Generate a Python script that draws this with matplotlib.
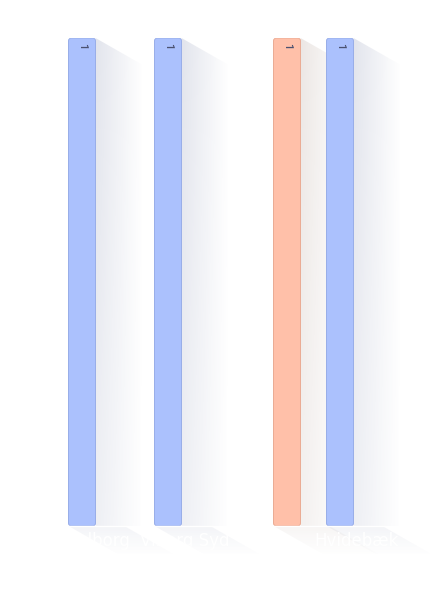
import numpy as np
import matplotlib
matplotlib.use("Agg")
import matplotlib.pyplot as plt
from matplotlib.patches import FancyBboxPatch, Polygon

# ---- data ----
categories = ["Aalborg", "Viborg Syd", "Ringe", "Hvidebæk"]
series_a = [1, 1, None, 1]      # blue series
series_b = [None, None, 1, None]  # orange series
value_labels = ["1", "1", "1", "1"]

color_a = "#abc1fd"
edge_a = "#98ade8"
color_b = "#ffc0a9"
edge_b = "#eaab94"
shadow_a = (0.42, 0.47, 0.63)
shadow_b = (0.62, 0.52, 0.47)

W_PX, H_PX = 431, 601
fig = plt.figure(figsize=(W_PX / 100, H_PX / 100), dpi=100)
ax_left, ax_right, ax_top, ax_bot = 55.5, 399.5, 38.0, 526.0
ax = fig.add_axes([ax_left / W_PX, (H_PX - ax_bot) / H_PX,
                   (ax_right - ax_left) / W_PX, (ax_bot - ax_top) / H_PX])
ax.set_xlim(-0.5, len(categories) - 0.5)
ax.set_ylim(0, 1)

px_x = (ax_right - ax_left) / len(categories)   # px per x unit
px_y = (ax_bot - ax_top) / 1.0                  # px per y unit
bar_w = 27 / px_x
offsets = [-16.5 / px_x, 16.5 / px_x]
rad = 3 / px_x
aspect = (1 / px_y) / (1 / px_x)


def gradient_poly(verts, rgb, direction, a0, a1, z):
    poly = Polygon(verts, closed=True, facecolor="none", edgecolor="none",
                   transform=ax.transData)
    xs = [v[0] for v in verts]
    ys = [v[1] for v in verts]
    n = 128
    g = np.linspace(a0, a1, n)
    img = np.zeros((n, n, 4))
    img[..., 0], img[..., 1], img[..., 2] = rgb
    if direction == "x":
        img[..., 3] = g[None, :]
        img[..., 3] *= np.linspace(0.6, 1.0, n)[:, None]
    else:
        img[..., 3] = g[::-1][:, None]
    im = ax.imshow(img, extent=(min(xs), max(xs), min(ys), max(ys)),
                   origin="lower", aspect="auto", zorder=z,
                   interpolation="bilinear")
    im.set_clip_box(fig.bbox)
    im.set_clip_path(poly)


shadow_len = 48 / px_x
slope = 0.57 * (px_x / px_y)   # data-y per data-x
below_len = 30 / px_y

for s, (vals, fc, ec, sh) in enumerate([(series_a, color_a, edge_a, shadow_a),
                                        (series_b, color_b, edge_b, shadow_b)]):
    for i, v in enumerate(vals):
        if v is None:
            continue
        cx = i + offsets[s]
        x0, x1 = cx - bar_w / 2, cx + bar_w / 2
        # long shadow to the right
        verts = [(x1, v), (x1 + shadow_len, v - shadow_len * slope),
                 (x1 + shadow_len, 0), (x1, 0)]
        gradient_poly(verts, sh, "x", 0.20, 0.0, 1)
        # shadow below axis
        dx = below_len / slope
        verts2 = [(x0, 0), (x1 + shadow_len * 0.6, 0),
                  (x1 + shadow_len * 0.6 + dx, -below_len),
                  (x0 + dx, -below_len)]
        gradient_poly(verts2, sh, "y", 0.08, 0.0, 1)
        # bar
        bar = FancyBboxPatch((x0, 0), bar_w, v,
                             boxstyle=f"round,pad=0,rounding_size={rad}",
                             mutation_aspect=aspect,
                             facecolor=fc, edgecolor=ec, linewidth=0.7,
                             zorder=3)
        ax.add_patch(bar)
        ax.text(cx, v - 8 / px_y, value_labels[i], rotation=-90,
                ha="center", va="center", fontsize=8, color="#4a5170",
                family="Roboto", fontweight="medium", zorder=4)

ax.set_xticks(range(len(categories)))
ax.set_xticklabels(categories, color="white", fontsize=12)
ax.tick_params(axis="x", length=0, pad=4)
ax.set_yticks([])
for side in ["top", "right", "left"]:
    ax.spines[side].set_visible(False)
ax.spines["bottom"].set_color("white")
ax.spines["bottom"].set_linewidth(1.0)
ax.spines["bottom"].set_zorder(5)
ax.patch.set_alpha(0)

fig.savefig("out.png", dpi=100, facecolor="white")
